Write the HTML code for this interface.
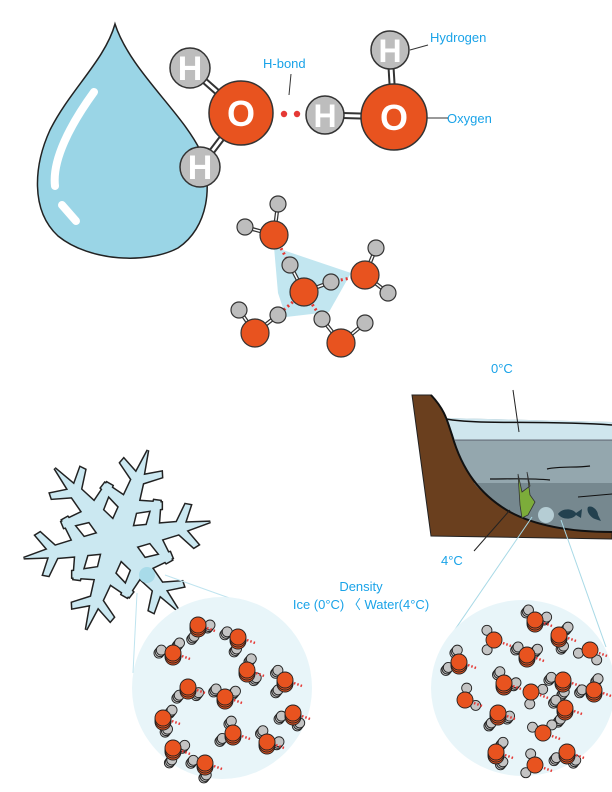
<!DOCTYPE html>
<html><head><meta charset="utf-8"><style>
html,body{margin:0;padding:0;background:#fff;width:612px;height:792px;overflow:hidden}
svg text{font-family:"Liberation Sans",sans-serif;fill:#1aa3e8}
</style></head><body>
<svg id="s" width="612" height="792" viewBox="0 0 612 792" xmlns="http://www.w3.org/2000/svg">
<path d="M115,24 C130,70 180,110 200,150 C214,185 208,228 178,248 C148,264 90,262 58,236 C30,210 34,165 50,130 C70,90 105,60 115,24 Z" fill="#9ad5e6" stroke="#222" stroke-width="1.5"/>
<path d="M94,92 C70,125 52,160 55,186" fill="none" stroke="#fff" stroke-width="8" stroke-linecap="round"/>
<path d="M62,205 L76,221" fill="none" stroke="#fff" stroke-width="8" stroke-linecap="round"/>
<g stroke="#333" stroke-width="7"><line x1="190" y1="68" x2="241" y2="113"/><line x1="200" y1="167" x2="241" y2="113"/><line x1="325" y1="115" x2="394" y2="117"/><line x1="390" y1="50" x2="394" y2="117"/></g>
<g stroke="#fff" stroke-width="3"><line x1="190" y1="68" x2="241" y2="113"/><line x1="200" y1="167" x2="241" y2="113"/><line x1="325" y1="115" x2="394" y2="117"/><line x1="390" y1="50" x2="394" y2="117"/></g>
<g stroke="#333" stroke-width="1.5">
<circle cx="190" cy="68" r="20" fill="#bdbdbd"/><circle cx="200" cy="167" r="20" fill="#bdbdbd"/>
<circle cx="325" cy="115" r="19" fill="#bdbdbd"/><circle cx="390" cy="50" r="19" fill="#bdbdbd"/>
<circle cx="241" cy="113" r="32" fill="#e8531f"/><circle cx="394" cy="117" r="33" fill="#e8531f"/></g>
<g font-weight="bold" text-anchor="middle" style="font-family:'Liberation Sans',sans-serif">
<text x="190" y="80" font-size="34" style="fill:#fff">H</text><text x="200" y="179" font-size="34" style="fill:#fff">H</text>
<text x="325" y="127" font-size="32" style="fill:#fff">H</text><text x="390" y="62" font-size="32" style="fill:#fff">H</text>
<text x="241" y="126" font-size="36" style="fill:#fff">O</text><text x="394" y="130" font-size="36" style="fill:#fff">O</text></g>
<circle cx="284" cy="114" r="3.2" fill="#e53935"/><circle cx="297" cy="114" r="3.2" fill="#e53935"/>
<text x="263" y="68" font-size="13">H-bond</text><line x1="291" y1="74" x2="289" y2="95" stroke="#333"/>
<text x="430" y="42" font-size="13">Hydrogen</text><line x1="410" y1="50" x2="428" y2="45" stroke="#333"/>
<text x="447" y="123" font-size="13">Oxygen</text><line x1="427" y1="118" x2="448" y2="118" stroke="#333"/>
<polygon points="274,247 351,273 329,312 286,317 278,293" fill="#9ad5e6" opacity="0.6"/>
<g id="cl"></g>
<g id="sfo"></g><g id="sf"></g>
<circle cx="147" cy="575" r="8" fill="#a8dbe9"/>
<line x1="137" y1="593" x2="133" y2="673" stroke="#bfe4ef"/><line x1="165" y1="575" x2="235" y2="600" stroke="#bfe4ef"/>
<path d="M412,395 L431,395 C445,410 447,420 452,435 C462,470 480,495 510,512 C540,528 580,532 612,532 L612,539 L431,536 Z" fill="#6a3f1e" stroke="#222" stroke-width="1"/>
<path d="M445,418 L612,422 L612,532 C580,532 540,528 510,512 C480,495 462,470 452,435 Z" fill="#94a7ae"/>
<path d="M446,418 L612,422 L612,440 L455,440 Z" fill="#cfe6ee"/>
<path d="M474,483 L612,483 L612,532 C580,532 540,528 510,512 C492,501 481,492 474,483Z" fill="#76888f"/>
<path d="M431,395 C445,410 447,420 452,435 C462,470 480,495 510,512 C540,528 580,532 612,532" fill="none" stroke="#111" stroke-width="2"/>
<path d="M446,419 C480,425 540,420 612,425" fill="none" stroke="#111" stroke-width="1.5"/>
<line x1="455" y1="440" x2="612" y2="440" stroke="#445" stroke-width="0.8"/>
<path d="M547,469 C560,466 575,468 590,466" fill="none" stroke="#111" stroke-width="1.2"/>
<path d="M490,479 C510,479 530,478 550,480" fill="none" stroke="#111" stroke-width="1.2"/>
<path d="M578,497 C590,496 600,495 612,494" fill="none" stroke="#111" stroke-width="1"/>
<path d="M518,474 L522,492 L530,486 L527,472 L530,495 L535,502 L528,515 L522,518 L520,505 Z" fill="#7cac3a" stroke="#333" stroke-width="0.8"/>
<circle cx="546" cy="515" r="8" fill="#b5cdd4"/>
<path d="M558,514 C562,508 572,508 576,513 L582,509 L581,518 L576,515 C572,520 562,520 558,514Z" fill="#23414f"/>
<path d="M588,507 C592,505 598,510 598,515 L601,521 L595,519 C590,517 586,511 588,507Z" fill="#23414f"/>
<text x="491" y="373" font-size="13">0°C</text><line x1="513" y1="390" x2="519" y2="432" stroke="#222"/>
<text x="441" y="565" font-size="13">4°C</text><line x1="474" y1="551" x2="510" y2="510" stroke="#222"/>
<line x1="532" y1="517" x2="441" y2="650" stroke="#a8d9e6"/><line x1="561" y1="520" x2="606" y2="647" stroke="#a8d9e6"/>
<text x="361" y="591" font-size="13" text-anchor="middle">Density</text>
<text x="361" y="609" font-size="13" text-anchor="middle">Ice (0°C) 〈 Water(4°C)</text>
<ellipse cx="222" cy="688" rx="90" ry="91" fill="#e8f5f9"/>
<ellipse cx="523" cy="688" rx="92" ry="88" fill="#e8f5f9"/>
<g id="mm"></g>
</svg>
<script>
var NS="http://www.w3.org/2000/svg";
function el(p,t,a){var e=document.createElementNS(NS,t);for(var k in a)e.setAttribute(k,a[k]);p.appendChild(e);return e;}
var cl=document.getElementById('cl');
var O=[[274,235],[365,275],[304,292],[255,333],[341,343]];
var H=[[278,204,0],[245,227,0],[290,265,2],[331,282,2],[376,248,1],[388,293,1],[239,310,3],[278,315,3],[322,319,4],[365,323,4]];
[[274,235,290,265],[331,282,365,275],[304,292,278,315],[304,292,322,319]].forEach(function(d){el(cl,'line',{x1:d[0],y1:d[1],x2:d[2],y2:d[3],stroke:'#e53935','stroke-width':3,'stroke-dasharray':'2 3'});});
H.forEach(function(h){var o=O[h[2]];el(cl,'line',{x1:h[0],y1:h[1],x2:o[0],y2:o[1],stroke:'#333','stroke-width':4});el(cl,'line',{x1:h[0],y1:h[1],x2:o[0],y2:o[1],stroke:'#fff','stroke-width':1.5});});
H.forEach(function(h){el(cl,'circle',{cx:h[0],cy:h[1],r:8,fill:'#bdbdbd',stroke:'#333','stroke-width':1.2});});
O.forEach(function(o){el(cl,'circle',{cx:o[0],cy:o[1],r:14,fill:'#e8531f',stroke:'#333','stroke-width':1.2});});
// snowflake: arms drawn as outline layer then fill layer
var arm=[[0,-12],[32,-9],[44,-32],[50,-30],[44,-8],[62,-6],[74,-22],[79,-20],[70,-4],[95,0]];
var sfo=document.getElementById('sfo'),sf=document.getElementById('sf');
for(var k=0;k<6;k++){var a=(-11+60*k)*Math.PI/180;var seq=arm.concat(arm.slice(0,-1).reverse().map(function(p){return [p[0],-p[1]];}));
var pts=seq.map(function(p){return (117+p[0]*Math.cos(a)-p[1]*Math.sin(a)).toFixed(1)+','+(540+p[0]*Math.sin(a)+p[1]*Math.cos(a)).toFixed(1);}).join(' ');
el(sfo,'polygon',{points:pts,fill:'#222',stroke:'#222','stroke-width':3,'stroke-linejoin':'miter'});
el(sf,'polygon',{points:pts,fill:'#cbe8f1'});}
el(sf,'circle',{cx:117,cy:540,r:16,fill:'#cbe8f1'});
var mm=document.getElementById('mm');
var L=[[198,625],[238,637],[173,653],[247,670],[188,687],[285,680],[225,697],[163,718],[293,713],[233,733],[267,742],[173,748],[205,763]];
var R=[[494,640],[527,655],[559,635],[590,650],[459,662],[504,683],[531,692],[563,680],[594,690],[465,700],[498,713],[565,708],[543,733],[496,752],[567,752],[535,765],[535,620]];
function mol(x,y,i,stack){var a1=(i*97)%360*Math.PI/180,a2=a1+1.9;
var hs=[[x+12*Math.cos(a1),y+12*Math.sin(a1)],[x+12*Math.cos(a2),y+12*Math.sin(a2)]];
hs.forEach(function(h){el(mm,'line',{x1:x,y1:y,x2:h[0],y2:h[1],stroke:'#333','stroke-width':3});
for(var s=stack;s>=0;s--)el(mm,'circle',{cx:h[0]-s*1.2,cy:h[1]+s*1.5,r:5,fill:'#c4c4c4',stroke:'#222','stroke-width':0.9});});
for(var s=stack;s>=0;s--)el(mm,'circle',{cx:x,cy:y+s*2,r:8,fill:'#e8531f',stroke:'#222','stroke-width':0.9});
el(mm,'line',{x1:x+9,y1:y+3,x2:x+17,y2:y+6,stroke:'#e53935','stroke-width':2.5,'stroke-dasharray':'1.5 2'});}
L.forEach(function(p,i){mol(p[0],p[1],i,2);});
R.forEach(function(p,i){mol(p[0],p[1],i+5,i%3==0?0:2);});
</script>
</body></html>
